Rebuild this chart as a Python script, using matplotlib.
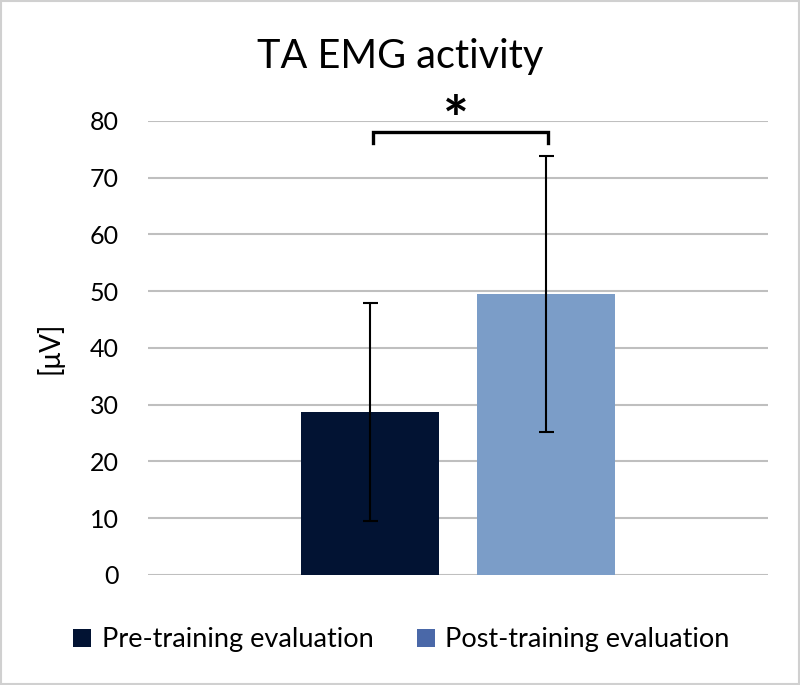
import matplotlib
matplotlib.use("Agg")
import matplotlib.pyplot as plt
from matplotlib.patches import Patch, Rectangle

plt.rcParams['font.family'] = ['Lato', 'DejaVu Sans']

series = ["Pre-training evaluation", "Post-training evaluation"]
means = [28.7, 49.5]
errors = [19.2, 24.3]
bar_colors = ["#021333", "#7b9dc8"]
legend_colors = ["#021333", "#4a68a8"]
yticks = [0, 10, 20, 30, 40, 50, 60, 70, 80]
title = "TA EMG activity"
ylabel = "[μV]"
sig_label = "*"

fig = plt.figure(figsize=(8, 6.85), dpi=100)
ax = fig.add_axes([0.185, 0.1606, 0.775, 0.6628])

offsets = [-0.1419, 0.1419]
width = 0.2218
for off, m, e, c in zip(offsets, means, errors, bar_colors):
    ax.bar(off, m, width=width, color=c, zorder=2)
    ax.errorbar(off, m, yerr=e, fmt='none', ecolor='black', elinewidth=1.5,
                capsize=5.4, capthick=1.5, zorder=3)

ax.set_xlim(-0.5, 0.5)
ax.set_ylim(0, 80)
ax.set_yticks(yticks)
ax.set_xticks([])
ax.grid(axis='y', color='#bfbfbf', linewidth=1.5, zorder=0)
for s in ax.spines.values():
    s.set_visible(False)
ax.tick_params(axis='y', length=0, labelsize=18, pad=21, labelcolor='#000000')

# significance bracket
bx0, bx1 = offsets[0] + 0.005, offsets[1] + 0.003
ax.plot([bx0, bx0, bx1, bx1], [76.2, 78.1, 78.1, 76.2], color='black', lw=2.4,
        clip_on=False, zorder=4, solid_joinstyle='miter')
ax.text(-0.003, 79.6, sig_label, ha='center', va='center', fontsize=44,
        fontweight='bold', clip_on=False)

ax.set_ylabel(ylabel, fontsize=20)
ax.yaxis.set_label_coords(-0.137, 0.5)
fig.text(0.5, 1 - 68 / 685, title, ha='center', va='baseline', fontsize=28.5)

handles = [Patch(facecolor=c, edgecolor='none') for c in legend_colors]
fig.legend(handles, series, loc='center', bbox_to_anchor=(0.502, 0.066), ncol=2,
           frameon=False, fontsize=19.5, handlelength=0.65, handleheight=0.65,
           handletextpad=0.4, columnspacing=1.6)

fig.patches.append(Rectangle((0.001, 0.001), 0.998, 0.998, transform=fig.transFigure,
                             fill=False, edgecolor='#d0d0d0', linewidth=1.5))

fig.savefig("out.png", dpi=100, facecolor='white')
